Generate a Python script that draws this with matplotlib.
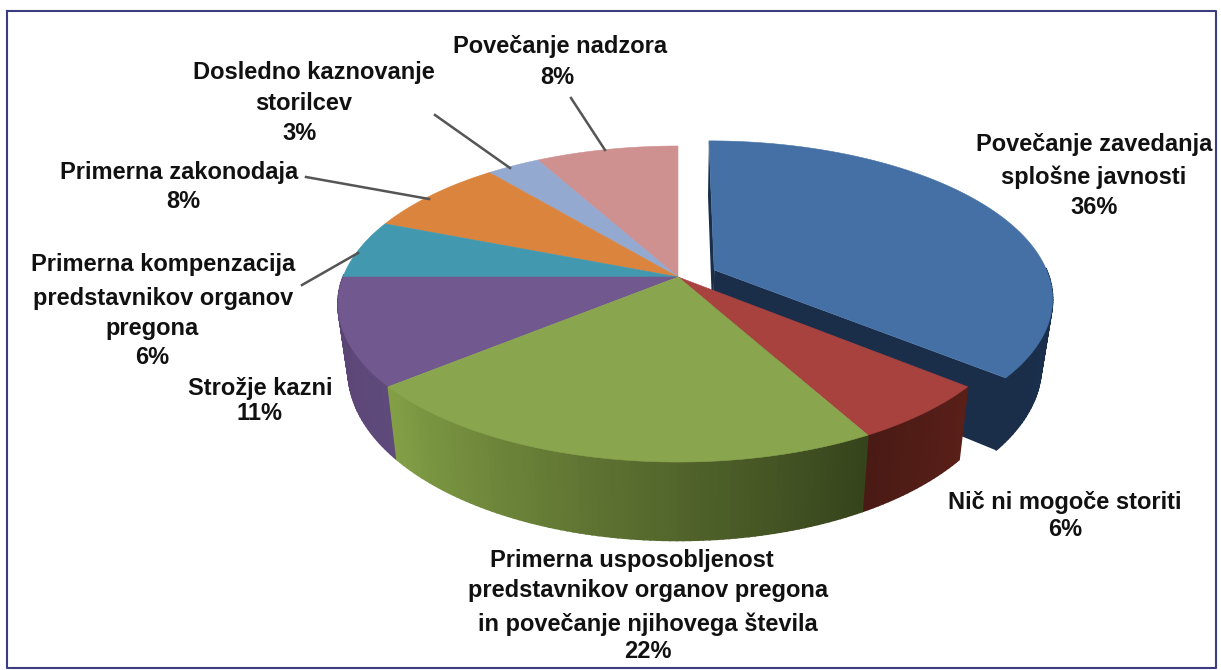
import numpy as np
import matplotlib
matplotlib.use("Agg")
import matplotlib.pyplot as plt
from matplotlib.colors import to_rgb

# Slices, clockwise from 12 o'clock
categories = [["Povečanje zavedanja", "splošne javnosti"], ["Nič ni mogoče storiti"],
              ["Primerna usposobljenost", "predstavnikov organov pregona", "in povečanje njihovega števila"],
              ["Strožje kazni"], ["Primerna kompenzacija", "predstavnikov organov", "pregona"],
              ["Primerna zakonodaja"], ["Dosledno kaznovanje", "storilcev"], ["Povečanje nadzora"]]
values = [36, 6, 22, 11, 6, 8, 3, 8]
colors = ["#4470a5", "#a8423f", "#89a54e", "#71588f", "#4198af", "#db843d", "#93a9cf", "#cf9090"]
# side wall colours at the start and end of each slice
rim_start = ["#1b3350", "#5a1f19", "#36431c", "#5f4a7c", "#33788c", "#a8642c", "#7488a8", "#a87474"]
rim_end = ["#1a2e4a", "#4a1a14", "#83a046", "#5a4474", "#33788c", "#a8642c", "#7488a8", "#a87474"]

# label placement in pixels: centre x of each line, centre y of each line
label_x = [[1094, 1094, 1094], [1065, 1065], [632, 648, 648, 648], [260, 260],
           [163, 163, 152, 152], [179, 183], [314, 304, 300], [560, 557]]
label_y = [[145, 177, 208], [502, 530], [561, 591, 624, 652], [388, 413],
           [265, 298, 328, 357], [173, 202], [73, 104, 133], [47, 78]]
leaders = [None, None, None, None,
           ((302, 285), (358, 253)), ((306, 177), (429, 199)),
           ((435, 115), (510, 168)), ((571, 98), (605, 150))]

cx, cy = 678, 277
rx, ry = 335, 153.4
persp = 0.171
depth = 65
bottom_scale = 0.97
explode = [(37 / 340, -0.046), (0, 0), (0, 0), (0, 0), (0, 0), (0, 0), (0, 0), (0, 0)]


def project(u, v, off, bottom=False):
    u = u + off[0]
    v = v + off[1]
    f = 1 / (1 - persp * v)
    x = rx * u * f
    y = ry * v * f
    if bottom:
        x = x * bottom_scale
        y = y + depth * f
    return cx + x, cy + y


fig = plt.figure(figsize=(12.21, 6.7), dpi=100)
ax = fig.add_axes([0, 0, 1, 1])
ax.set_xlim(0, 1221)
ax.set_ylim(670, 0)
ax.axis("off")

# chart frame
ax.plot([7, 1216, 1216, 7, 7], [11, 11, 668, 668, 11], color="#3c3c80", lw=1.5, zorder=1)

fracs = np.cumsum([0] + values) / sum(values) * 2 * np.pi
# draw order: exploded slice first, back slices next, front slices last
order = [0, 7, 6, 5, 4, 1, 3, 2]
z = 3
for i in order:
    a0, a1 = fracs[i], fracs[i + 1]
    off = explode[i]
    n = max(int((a1 - a0) * 60), 4)
    ang = np.linspace(a0, a1, n + 1)
    us, vs = np.sin(ang), -np.cos(ang)

    if off[0] != 0:
        # cut faces of the pulled-out slice
        for a in (a0, a1):
            p = [project(0, 0, off), project(np.sin(a), -np.cos(a), off),
                 project(np.sin(a), -np.cos(a), off, True), project(0, 0, off, True)]
            ax.fill(*zip(*p), color=rim_end[i], lw=0, zorder=2)

    c0, c1 = np.array(to_rgb(rim_start[i])), np.array(to_rgb(rim_end[i]))
    for k in range(n):
        # back part of the wall is hidden behind the top face
        if vs[k] < 0 and vs[k + 1] < 0:
            continue
        t = (k + 0.5) / n
        p = [project(us[k], vs[k], off), project(us[k + 1], vs[k + 1], off),
             project(us[k + 1], vs[k + 1], off, True), project(us[k], vs[k], off, True)]
        col = c0 * (1 - t) + c1 * t
        ax.fill(*zip(*p), color=col, lw=1.2, zorder=2 if off[0] != 0 else z)
    z += 1

# top faces over all the walls, exploded slice keeps its own level
for i in order:
    a0, a1 = fracs[i], fracs[i + 1]
    off = explode[i]
    ang = np.linspace(a0, a1, 100)
    xs, ys = project(np.sin(ang), -np.cos(ang), off)
    ax_, ay_ = project(0, 0, off)
    ax.fill(np.r_[ax_, xs], np.r_[ay_, ys], color=colors[i], lw=0.4,
            zorder=2.5 if off[0] != 0 else 20)

for i, name in enumerate(categories):
    lines = name + [f"{values[i]}%"]
    for line, x, y in zip(lines, label_x[i], label_y[i]):
        ax.text(x, y, line, ha="center", va="center", family="Liberation Sans", weight="bold",
                fontsize=17, color="#111111", zorder=30)
    if leaders[i] is not None:
        (x0, y0), (x1, y1) = leaders[i]
        ax.plot([x0, x1], [y0, y1], color="#555555", lw=1.8, zorder=25)

fig.savefig("out.png", dpi=100)
